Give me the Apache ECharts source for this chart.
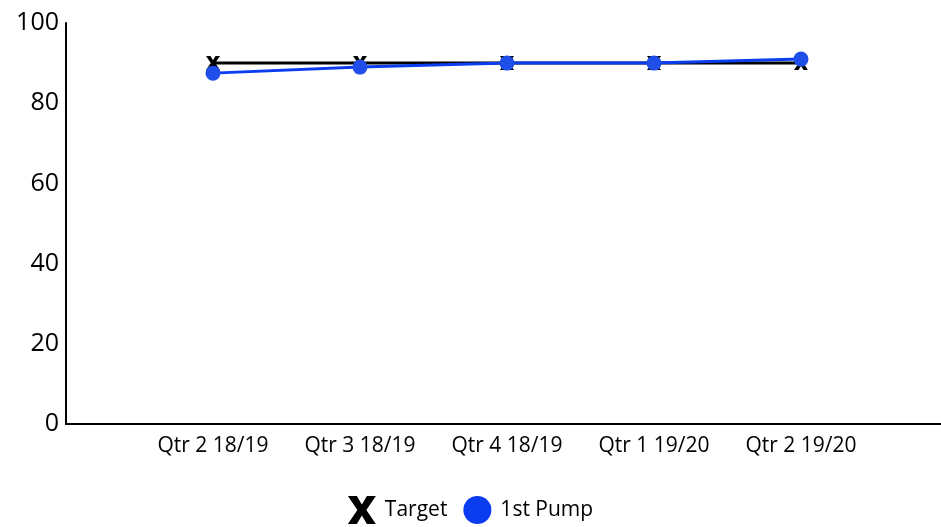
<!DOCTYPE html>
<html>
<head>
<meta charset="utf-8">
<script src="https://cdn.jsdelivr.net/npm/echarts@6/dist/echarts.min.js"></script>
<style>
  html, body { margin: 0; padding: 0; background: #fff; }
  #chart { width: 941px; height: 527px; }
</style>
</head>
<body>
<div id="chart"></div>
<script>
const categories = ["Qtr 2 18/19", "Qtr 3 18/19", "Qtr 4 18/19", "Qtr 1 19/20", "Qtr 2 19/20"];
const target = [90, 90, 90, 90, 90];
const pump = [87.5, 89, 90, 90, 91];
const yTicks = [0, 20, 40, 60, 80, 100];

// 轴两端各留一个空位
const axisData = [""].concat(categories, [""]);
const pad = (arr) => [null].concat(arr, [null]);

const xPath = "path://M0,0 L3.2,0 L5,3 L6.8,0 L10,0 L6.6,5 L10,10 L6.8,10 L5,7 L3.2,10 L0,10 L3.4,5 Z";

const chart = echarts.init(document.getElementById("chart"));
chart.setOption({
  animation: false,
  textStyle: { fontFamily: "Open Sans", color: "#000" },
  grid: { left: 66, right: -7, top: 23, bottom: 103, outerBoundsMode: "none" },
  legend: {
    top: 491,
    left: "center",
    itemGap: 16,
    itemWidth: 30,
    itemHeight: 28,
    textStyle: { fontSize: 21, color: "#000", fontFamily: "Open Sans", padding: [0, 0, 0, 3] },
    data: [
      { name: "Target", icon: xPath, itemStyle: { color: "#000" } },
      { name: "1st Pump", icon: "circle", itemStyle: { color: "#0a3cf0" } },
    ],
  },
  xAxis: {
    type: "category",
    boundaryGap: false,
    data: axisData,
    axisLine: { lineStyle: { color: "#000", width: 2 } },
    axisTick: { show: false },
    axisLabel: { fontSize: 21, color: "#000", margin: 12, interval: 0 },
    splitLine: { show: false },
  },
  yAxis: {
    type: "value",
    min: yTicks[0],
    max: yTicks[yTicks.length - 1],
    interval: 20,
    axisLine: { show: true, lineStyle: { color: "#000", width: 2 } },
    axisTick: { show: false },
    axisLabel: { fontSize: 25, color: "#000", margin: 7 },
    splitLine: { show: false },
  },
  series: [
    {
      name: "Target",
      type: "line",
      data: pad(target),
      symbol: xPath,
      symbolSize: 14,
      lineStyle: { color: "#000", width: 3 },
      itemStyle: { color: "#000" },
    },
    {
      name: "1st Pump",
      type: "line",
      data: pad(pump),
      symbol: "circle",
      symbolSize: 15,
      lineStyle: { color: "#0a3cf0", width: 3 },
      itemStyle: { color: "#1f4ee8" },
    },
  ],
});
</script>
</body>
</html>
